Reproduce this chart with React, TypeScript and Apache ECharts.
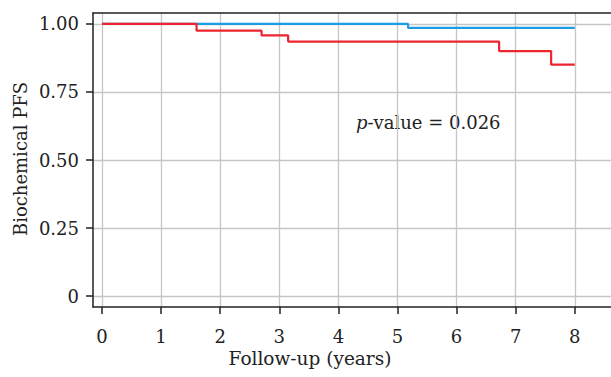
import React, { useEffect, useRef } from "react";
import * as echarts from "echarts";

const xTicks = [0, 1, 2, 3, 4, 5, 6, 7, 8];
const yTicks = [0, 0.25, 0.5, 0.75, 1.0];

// Kaplan-Meier steps: [time (years), survival]
const blueSeries: [number, number][] = [
  [0, 1.0],
  [5.18, 0.985],
  [8.0, 0.985],
];
const redSeries: [number, number][] = [
  [0, 1.0],
  [1.6, 0.975],
  [2.7, 0.958],
  [3.15, 0.935],
  [6.72, 0.9],
  [7.6, 0.85],
  [8.0, 0.85],
];

const xAxisTitle = "Follow-up (years)";
const yAxisTitle = "Biochemical PFS";
const pValueText = "{i|p}-value = 0.026";

const FONT = "DejaVu Serif";
const X_MIN = -0.152;
const X_MAX = 8.613;

export default function App() {
  const ref = useRef<HTMLDivElement>(null);
  useEffect(() => {
    if (!ref.current) return;
    const chart = echarts.init(ref.current, undefined, { renderer: "svg" });
    chart.setOption({
      animation: false,
      backgroundColor: "#ffffff",
      grid: {
        left: 93,
        top: 13,
        right: 0,
        bottom: 70,
        show: false,
      },
      xAxis: [
        {
          type: "value",
          min: X_MIN,
          max: X_MAX,
          axisLine: { show: true, onZero: false, lineStyle: { color: "#222", width: 1.5 } },
          axisTick: {
            show: true,
            length: 7,
            customValues: xTicks,
            lineStyle: { color: "#222", width: 1.5 },
          },
          axisLabel: {
            customValues: xTicks,
            margin: 20,
            fontFamily: FONT,
            fontSize: 18,
            color: "#222",
            formatter: (v: number) => String(v),
          },
          splitLine: { show: true, lineStyle: { color: "#c6c6c6", width: 1.3 } },
        },
        {
          type: "value",
          position: "top",
          min: X_MIN,
          max: X_MAX,
          axisLine: { show: true, onZero: false, lineStyle: { color: "#222", width: 1.5 } },
          axisTick: { show: false },
          axisLabel: { show: false },
          splitLine: { show: false },
        },
      ],
      yAxis: {
        type: "value",
        min: -0.04,
        max: 1.04,
        axisLine: { show: true, onZero: false, lineStyle: { color: "#222", width: 1.5 } },
        axisTick: {
          show: true,
          length: 7,
          customValues: yTicks,
          lineStyle: { color: "#222", width: 1.5 },
        },
        axisLabel: {
          customValues: yTicks,
          margin: 14,
          fontFamily: FONT,
          fontSize: 18,
          color: "#222",
          formatter: (v: number) => (v === 0 ? "0" : v.toFixed(2)),
        },
        splitLine: { show: true, lineStyle: { color: "#c6c6c6", width: 1.3 } },
      },
      graphic: [
        {
          type: "text",
          x: 20,
          y: 159,
          rotation: Math.PI / 2,
          style: {
            text: yAxisTitle,
            fontFamily: FONT,
            fontSize: 18,
            fill: "#222",
            align: "center",
            verticalAlign: "middle",
          },
        },
        {
          type: "text",
          x: 310,
          y: 358,
          style: {
            text: xAxisTitle,
            fontFamily: FONT,
            fontSize: 18.5,
            fill: "#222",
            align: "center",
            verticalAlign: "middle",
          },
        },
        {
          type: "text",
          x: 356,
          y: 122,
          style: {
            text: pValueText,
            fontFamily: FONT,
            fontSize: 18,
            fill: "#222",
            align: "left",
            verticalAlign: "middle",
            rich: {
              i: { fontStyle: "italic", fontFamily: FONT, fontSize: 18, fill: "#222" },
            },
          },
        },
      ],
      series: [
        {
          type: "line",
          data: blueSeries,
          step: "end",
          showSymbol: false,
          symbol: "none",
          lineStyle: { color: "#1a9de3", width: 2.2 },
          z: 2,
        },
        {
          type: "line",
          data: redSeries,
          step: "end",
          showSymbol: false,
          symbol: "none",
          lineStyle: { color: "#ee2430", width: 2.2 },
          z: 3,
        },
      ],
    });
    return () => chart.dispose();
  }, []);
  return (
    <div
      ref={ref}
      style={{ position: "absolute", left: 0, top: 0, width: 611, height: 377 }}
    />
  );
}
